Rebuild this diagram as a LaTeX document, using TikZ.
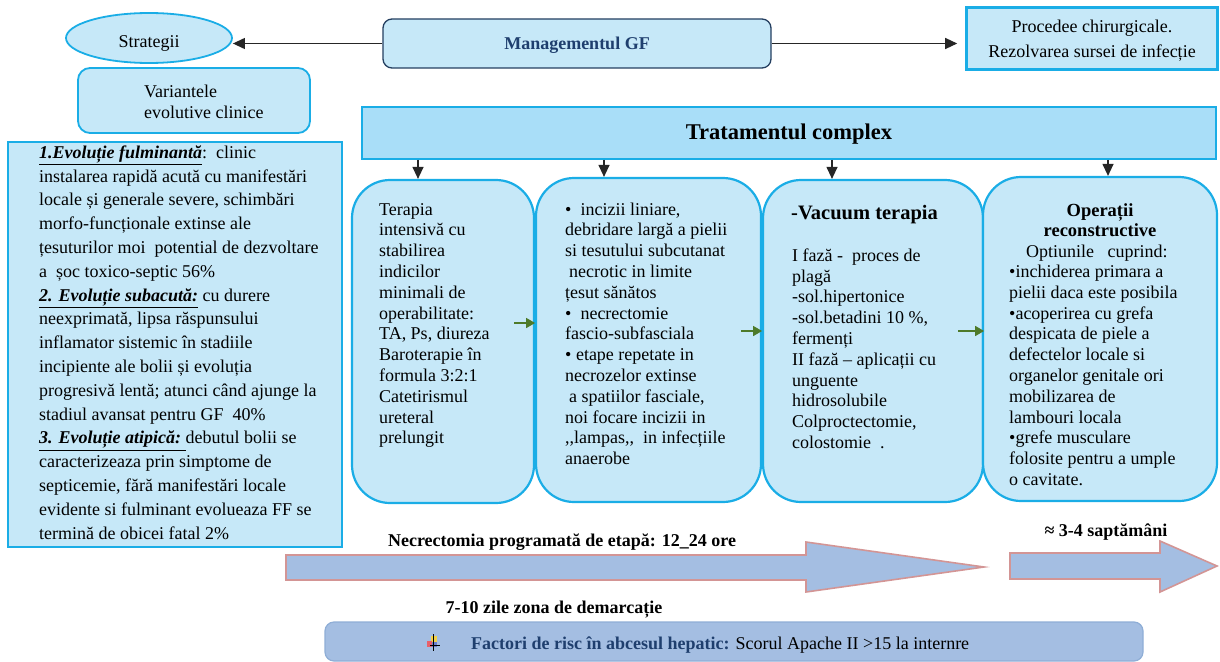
\documentclass[tikz,border=0pt]{standalone}
\usepackage{fontspec}
\setmainfont{Liberation Serif}
\usetikzlibrary{arrows.meta,shapes.geometric,calc}

\definecolor{boxfill}{HTML}{C6E8F8}
\definecolor{boxline}{HTML}{1AADE6}
\definecolor{headfill}{HTML}{A9DEF8}
\definecolor{navyline}{HTML}{243F60}
\definecolor{titleblue}{HTML}{1F3F6E}
\definecolor{bandfill}{HTML}{A4BEE2}
\definecolor{bandline}{HTML}{D39595}
\definecolor{barline}{HTML}{8FAED6}
\definecolor{stepgreen}{HTML}{4E7A2A}
\definecolor{iconyellow}{HTML}{F2D24A}
\definecolor{iconred}{HTML}{E8606A}
\definecolor{iconblue}{HTML}{6A7FD0}

% multi-line text nodes are placed by the baseline of their LAST line
\tikzset{
  softbox/.style={draw=boxline, line width=1.8pt, fill=boxfill},
  stagebox/.style={softbox, line width=2.2pt, rounded corners=38pt, inner sep=0pt},
  plain/.style={inner sep=0pt, font=\fontsize{18}{20.8}\selectfont},
  body/.style={plain, anchor=base west, align=left},
  blackarrow/.style={-{Triangle[length=12pt,width=11pt]}, line width=1.2pt, black!85},
  greenarrow/.style={-{Triangle[length=9pt,width=10pt]}, line width=1.5pt, stepgreen},
  bigarrow/.style={fill=bandfill, draw=bandline, line width=1.6pt, line join=miter},
  bandlabel/.style={inner sep=0pt, anchor=base, font=\fontsize{18}{20}\selectfont\bfseries},
}

\begin{document}
\begin{tikzpicture}[x=1pt,y=-1pt]
\useasboundingbox (0,0) rectangle (1220,661);

% --- top row: strategy, management, surgery ---
\node[ellipse, softbox, minimum width=166, minimum height=50, inner sep=0pt] (strat) at (149,38) {};
\node[plain, anchor=base] (stratT) at (149,48) {Strategii};

\node[draw=navyline, line width=1.3pt, fill=boxfill, rounded corners=9pt,
      minimum width=388, minimum height=49, inner sep=0pt] (mgmt) at (577,43.5) {};
\node[plain, anchor=base, text=titleblue, font=\fontsize{18}{20}\selectfont\bfseries] (mgmtT) at (577,49) {Managementul GF};

\node[softbox, line width=2.6pt, minimum width=251, minimum height=62, inner sep=0pt] (proc) at (1092,38.5) {};
\node[plain, anchor=base, align=center, font=\fontsize{18}{25}\selectfont] (procT) at (1092,58) {Procedee chirurgicale.\\Rezolvarea sursei de infecție};

\draw[blackarrow] (mgmt.west) -- (mgmt.west -| strat.east);
\draw[blackarrow, shorten >=8pt] (mgmt.east) -- (mgmt.east -| proc.west);

% --- clinical variants ---
\node[softbox, rounded corners=12pt, minimum width=232, minimum height=65, inner sep=0pt] (var) at (194,100.5) {};
\node[body] (varT) at (144,118) {Variantele\\evolutive clinice};

\node[softbox, minimum width=334, minimum height=405, inner sep=0pt] (evol) at (175,344.5) {};
\node[body, font=\fontsize{18}{23.8}\selectfont] (evolT) at (39,539) {%
\underline{\textbf{\textit{1.Evoluție fulminantă}}}:\ \ clinic\\
instalarea rapidă acută cu manifestări\\
locale și generale severe, schimbări\\
morfo-funcționale extinse ale\\
țesuturilor moi\ \ potential de dezvoltare\\
a\ \ șoc toxico-septic 56\%\\
\underline{\textbf{\textit{2. Evoluție subacută:}}} cu durere\\
neexprimată, lipsa răspunsului\\
inflamator sistemic în stadiile\\
incipiente ale bolii și evoluția\\
progresivă lentă; atunci când ajunge la\\
stadiul avansat pentru GF\ \ 40\%\\
\underline{\textbf{\textit{3. Evoluție atipică:}}\ }debutul bolii se\\
caracterizeaza prin simptome de\\
septicemie, fără manifestări locale\\
evidente si fulminant evolueaza FF se\\
termină de obicei fatal 2\%};

% --- complex treatment header ---
\node[draw=boxline, line width=1.8pt, fill=headfill, minimum width=854, minimum height=52, inner sep=0pt] (trat) at (789,133) {};
\node[plain, anchor=base, font=\fontsize{22.5}{24}\selectfont\bfseries] (tratT) at (789,139) {Tratamentul complex};

% --- four treatment stages ---
\node[stagebox, minimum width=182, minimum height=323] (b1) at (443,341.5) {};
\node[stagebox, minimum width=225, minimum height=324] (b2) at (648.5,340) {};
\node[stagebox, minimum width=220, minimum height=322] (b3) at (873,341) {};
\node[stagebox, minimum width=234, minimum height=324] (b4) at (1100,339) {};

\node[body] (b1T) at (379,443.8) {Terapia\\intensivă cu\\stabilirea\\indicilor\\minimali de\\operabilitate:\\TA, Ps, diureza\\Baroterapie în\\formula 3:2:1\\Catetirismul\\ureteral\\prelungit};

\node[body] (b2T) at (565,464.6) {•\ \ incizii liniare,\\debridare largă a pielii\\si tesutului subcutanat\\\hspace*{4pt}necrotic in limite\\țesut sănătos\\•\ \ necrectomie\\fascio-subfasciala\\• etape repetate in\\necrozelor extinse\\\hspace*{4pt}a spatiilor fasciale,\\noi focare incizii in\\,{},lampas,{},\ \ in infecțiile\\anaerobe};

\node[plain, anchor=base west, font=\fontsize{20.5}{22}\selectfont\bfseries] (b3H) at (791,219) {-Vacuum terapia};
\node[body] (b3T) at (792,448.5) {I fază -\ \ proces de\\plagă\\-sol.hipertonice\\-sol.betadini 10 \%,\\fermenți\\II fază -- aplicații cu\\unguente\\hidrosolubile\\Colproctectomie,\\colostomie\ \ .};

\node[plain, anchor=base, align=center, font=\fontsize{18.5}{20.8}\selectfont\bfseries] (b4H) at (1100,236.8) {Operații\\reconstructive};
\node[body] (b4O) at (1026,257) {Optiunile\ \ \ cuprind:};
\node[body] (b4T) at (1009,485.5) {•inchiderea primara a\\pielii daca este posibila\\•acoperirea cu grefa\\despicata de piele a\\defectelor locale si\\organelor genitale ori\\mobilizarea de\\lambouri locala\\•grefe musculare\\folosite pentru a umple\\o cavitate.};

% header arrows into each stage
\coordinate (a1) at (418,0);
\coordinate (a2) at (604,0);
\coordinate (a3) at (832,0);
\coordinate (a4) at (1108,0);
\draw[blackarrow] (a1 |- trat.south) -- (a1 |- b1.north);
\draw[blackarrow] (a2 |- trat.south) -- (a2 |- b2.north);
\draw[blackarrow] (a3 |- trat.south) -- (a3 |- b3.north);
\draw[blackarrow] (a4 |- trat.south) -- (a4 |- b4.north);

% stage-to-stage arrows
\coordinate (g1) at (514,323);
\coordinate (g2) at (741,331);
\coordinate (g3) at (958,331);
\draw[greenarrow] (g1) -- (g1 -| b1.east);
\draw[greenarrow] (g2) -- (g2 -| b2.east);
\draw[greenarrow] (g3) -- (g3 -| b3.east);

% --- time line ---
\draw[bigarrow] (286,555) -- (806,555) -- (806,542) -- (984,567) -- (806,592) -- (806,580) -- (286,580) -- cycle;
\draw[bigarrow] (1010,553) -- (1160,553) -- (1160,541) -- (1217,566) -- (1160,592) -- (1160,579) -- (1010,579) -- cycle;

\node[bandlabel] (necr) at (562,546) {Necrectomia programată de etapă: 12\_24 ore};
\node[bandlabel] (weeks) at (1106,536) {≈ 3-4 saptămâni};
\node[bandlabel] (demarc) at (554,613) {7-10 zile zona de demarcație};

% --- risk factor bar ---
\node[fill=bandfill, draw=barline, line width=1.2pt, rounded corners=9pt,
      minimum width=818, minimum height=39, inner sep=0pt] (risk) at (734,641.5) {};
\fill[iconyellow] (431,636) rectangle (437,642);
\fill[iconred] (427,641) rectangle (432,647);
\fill[iconblue] (432,642) rectangle (437,647);
\draw[black, line width=0.9pt] (433,634) -- (433,651);
\draw[black, line width=0.9pt] (430,645) -- (440,645);
\node[plain, anchor=base west, font=\fontsize{18}{20}\selectfont] (riskT) at (471,649)
  {{\color{titleblue}\bfseries Factori de risc în abcesul hepatic:} Scorul Apache II >15 la internre};
\end{tikzpicture}
\end{document}
